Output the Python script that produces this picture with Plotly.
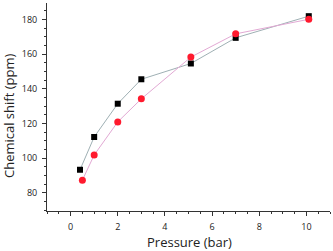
import plotly.graph_objects as go

pressure_black = [0.4, 1.0, 2.0, 3.0, 5.1, 7.0, 10.1]
shift_black = [93.3, 112.2, 131.4, 145.5, 154.6, 169.4, 181.9]
pressure_red = [0.5, 1.0, 2.0, 3.0, 5.1, 7.0, 10.1]
shift_red = [87.3, 101.8, 120.9, 134.2, 158.3, 171.7, 180.1]
x_ticks = [0, 2, 4, 6, 8, 10]
y_ticks = [80, 100, 120, 140, 160, 180]

fig = go.Figure()
fig.add_trace(go.Scatter(x=pressure_black, y=shift_black, mode="lines+markers",
                         line=dict(color="#9fb0b4", width=1),
                         marker=dict(symbol="square", size=6, color="black")))
fig.add_trace(go.Scatter(x=pressure_red, y=shift_red, mode="lines+markers",
                         line=dict(color="#e2a9d4", width=1),
                         marker=dict(symbol="circle", size=7, color="#ff1a2e")))

axis_common = dict(showline=True, linecolor="#333", linewidth=1, ticks="outside",
                   ticklen=4, tickcolor="#333", showgrid=False, zeroline=False,
                   tickfont=dict(family="Open Sans", size=9, color="#222"),
                   ticklabelstandoff=3,
                   minor=dict(ticks="outside", ticklen=2, tickcolor="#333"))
fig.update_xaxes(range=[-1, 11], tickvals=x_ticks, dtick=2, **axis_common)
fig.update_yaxes(range=[69.5, 189.5], tickvals=y_ticks, dtick=20, **axis_common)

title_font = dict(family="Open Sans", size=13, color="#222")
fig.add_annotation(text="Pressure (bar)", xref="paper", yref="paper", x=0.502, y=-0.149,
                   xanchor="center", yanchor="middle", showarrow=False, font=title_font)
fig.add_annotation(text="Chemical shift (ppm)", xref="paper", yref="paper", x=-0.134, y=0.457,
                   xanchor="center", yanchor="middle", textangle=-90, showarrow=False, font=title_font)

fig.update_layout(width=333, height=251, margin=dict(l=47, r=3, t=3, b=40, autoexpand=False),
                  plot_bgcolor="white", paper_bgcolor="white", showlegend=False)
fig.write_html("out.html", config={"displayModeBar": False},
               post_script="document.body.style.margin='0';")
